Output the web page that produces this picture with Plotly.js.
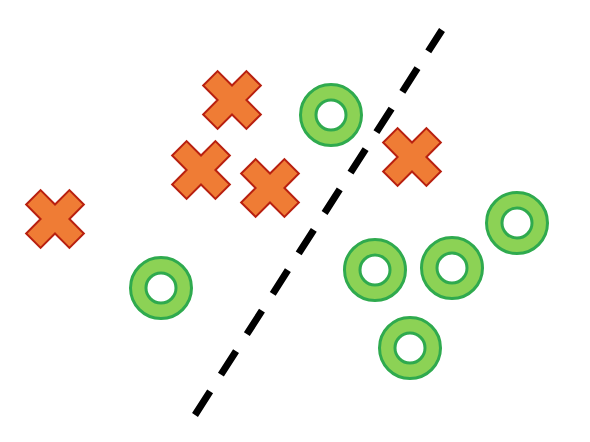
<!DOCTYPE html>
<html>
<head>
<meta charset="utf-8">
<script src="https://cdn.plot.ly/plotly-3.0.1.min.js"></script>
<style>
  html, body { margin: 0; padding: 0; background: #fff; }
  #chart { width: 590px; height: 442px; }
</style>
</head>
<body>
<div id="chart"></div>
<script>
// two classes separated by a dashed boundary line

const crossX = [232, 201, 270, 412, 55];
const crossY = [100, 170, 188, 157, 219];

const ringX = [331, 161, 375, 452, 517, 410];
const ringY = [115, 288, 270, 268, 223, 348];

const boundaryX = [195, 442];
const boundaryY = [415, 30];

(function () {

    const dom = document.getElementById("chart");

    const C = {
        orange: "#EF7C35",
        red: "#B82010",
        green: "#8CD255",
        greenLine: "#2FAA4E",
        ink: "#000000"
    };

    const traces = [
        {
            x: boundaryX,
            y: boundaryY,
            mode: "lines",
            line: { color: C.ink, width: 7, dash: "28px,20px" },
            hoverinfo: "skip"
        },
        {
            x: crossX,
            y: crossY,
            mode: "markers",
            marker: {
                symbol: "x",
                size: 51,
                color: C.orange,
                line: { color: C.red, width: 2 }
            }
        },
        {
            x: ringX,
            y: ringY,
            mode: "markers",
            marker: {
                symbol: "circle",
                size: 61,
                color: C.green,
                line: { color: C.greenLine, width: 3 }
            }
        },
        {
            x: ringX,
            y: ringY,
            mode: "markers",
            marker: {
                symbol: "circle",
                size: 30,
                color: "#ffffff",
                line: { color: C.greenLine, width: 3 }
            }
        }
    ];

    const layout = {
        width: 590,
        height: 442,
        showlegend: false,
        margin: { l: 0, r: 0, t: 0, b: 0 },
        paper_bgcolor: "#ffffff",
        plot_bgcolor: "#ffffff",
        xaxis: { range: [0, 590], visible: false, fixedrange: true },
        yaxis: { range: [442, 0], visible: false, fixedrange: true }
    };

    Plotly.newPlot(dom, traces, layout, { displayModeBar: false, staticPlot: true });

})();
</script>
</body>
</html>
